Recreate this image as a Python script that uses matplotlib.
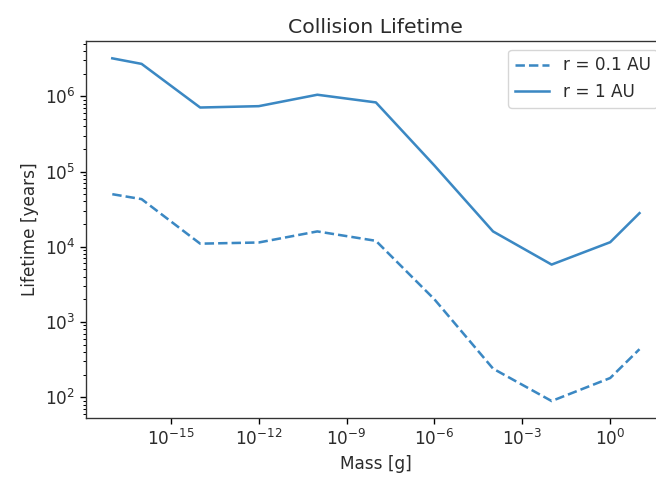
import matplotlib
matplotlib.use("Agg")
import matplotlib.pyplot as plt

# Mass grid [g] and collision lifetimes [years]
mass = [1e-17, 1e-16, 1e-14, 1e-12, 1e-10, 1e-8, 1e-6, 1e-4, 1e-2, 1e0, 1e1]
life_01au = [5.0e4, 4.3e4, 1.1e4, 1.14e4, 1.6e4, 1.2e4, 2.0e3, 2.4e2, 89, 180, 435]
life_1au = [3.2e6, 2.7e6, 7.1e5, 7.4e5, 1.05e6, 8.3e5, 1.2e5, 1.6e4, 5.8e3, 1.15e4, 2.8e4]

# reference looks like a notebook render, everything ~1.22x the defaults
s = 1.22
plt.rcParams.update({
    "font.size": 10 * s,
    "axes.titlesize": 12 * s,
    "axes.linewidth": 0.8 * s,
    "lines.linewidth": 1.5 * s,
    "xtick.major.size": 3.5 * s,
    "ytick.major.size": 3.5 * s,
    "xtick.minor.size": 2 * s,
    "ytick.minor.size": 2 * s,
    "xtick.major.width": 0.8 * s,
    "ytick.major.width": 0.8 * s,
    "xtick.minor.width": 0.6 * s,
    "ytick.minor.width": 0.6 * s,
    "text.color": "#2b2b2b",
    "axes.labelcolor": "#2b2b2b",
    "xtick.labelcolor": "#2b2b2b",
    "ytick.labelcolor": "#2b2b2b",
    "axes.edgecolor": "#333333",
})
blue = "#3b88c3"

fig = plt.figure(figsize=(6.56, 4.79), dpi=100)
ax = fig.add_axes([0.131, 0.127, 0.884, 0.787])
ax.plot(mass, life_01au, "--", color=blue, label="r = 0.1 AU")
ax.plot(mass, life_1au, "-", color=blue, label="r = 1 AU")
ax.set_xscale("log")
ax.set_yscale("log")
ax.set_xlabel("Mass [g]")
ax.set_ylabel("Lifetime [years]")
ax.set_title("Collision Lifetime")
ax.legend(loc="upper right")

fig.savefig("out.png", dpi=100)
